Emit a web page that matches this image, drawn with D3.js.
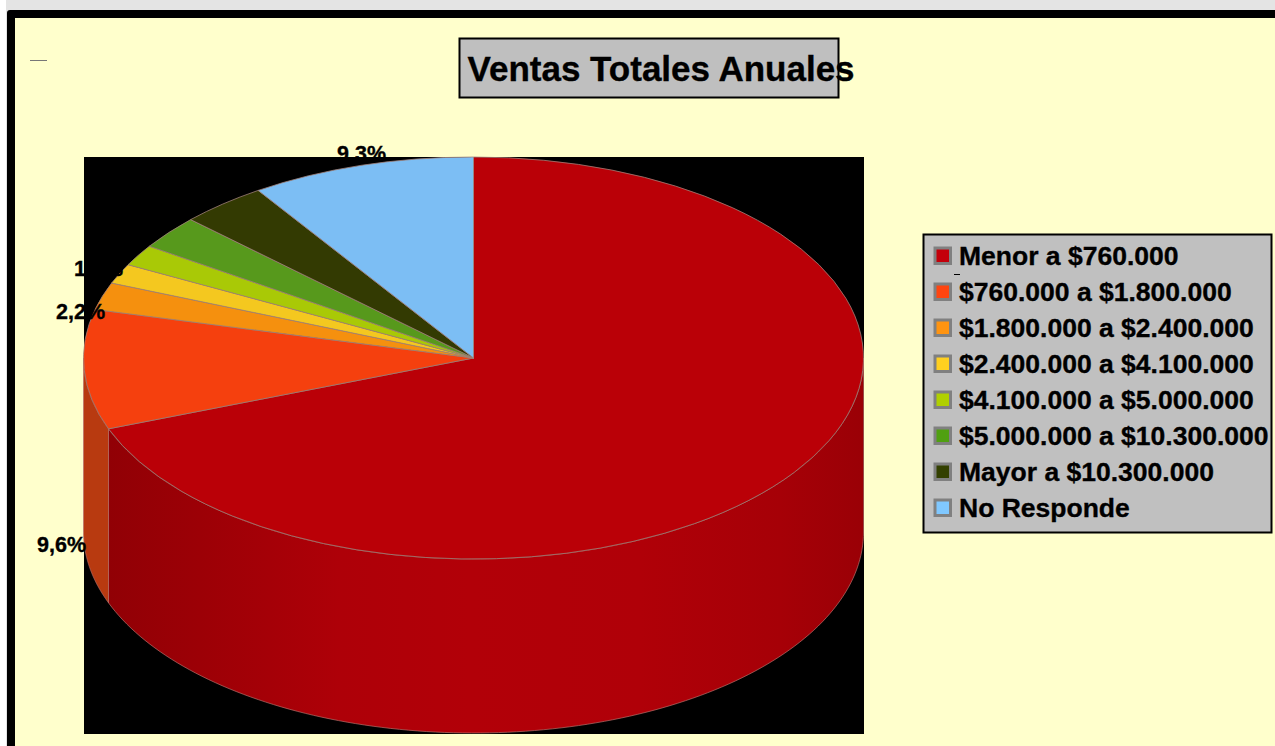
<!DOCTYPE html>
<html><head><meta charset="utf-8">
<script src="https://cdn.jsdelivr.net/npm/d3@7"></script>
<style>html,body{margin:0;padding:0;background:#fff;overflow:hidden}svg{display:block}text{font-family:"Liberation Sans",Arial,sans-serif;font-weight:bold;fill:#000;stroke:#000;stroke-width:.35px}</style>
</head><body><div id="chart"></div>
<script>
const categories = ["Menor a $760.000","$760.000 a $1.800.000","$1.800.000 a $2.400.000","$2.400.000 a $4.100.000","$4.100.000 a $5.000.000","$5.000.000 a $10.300.000","Mayor a $10.300.000","No Responde"];
const values = [69.2,9.6,2.2,1.6,1.7,2.7,3.6,9.3];
const topColors = ["#ba0007","#f5400e","#f5900e","#f4c81f","#a9c906","#57991c","#333a02","#7cbef4"];
const swatchColors = ["#c4000a","#ff4510","#ff9410","#ffd020","#b0d000","#50a010","#334000","#80c8ff"];
const sideStops = [[84,"#8e0005"],[200,"#9c0006"],[340,"#ae0008"],[470,"#b20008"],[640,"#b00008"],[780,"#a60007"],[864,"#9a0006"]];
const labels = [{t:"9,3%",x:337,y:161},{t:"1,6%",x:74,y:276},{t:"2,2%",x:56,y:319},{t:"9,6%",x:37,y:552}];
const title = "Ventas Totales Anuales";

const W=1275,H=746,cx=473.5,cy=358,rx=390,ry=201,depth=174;
const svg=d3.select("#chart").append("svg").attr("width",W).attr("height",H);
svg.append("rect").attr("width",W).attr("height",H).attr("fill","#ffffff");
svg.append("rect").attr("x",6).attr("width",W-6).attr("height",H).attr("fill","#e4e4e4");
svg.append("rect").attr("x",7).attr("y",10).attr("width",W).attr("height",H).attr("rx",3).attr("fill","#000");
svg.append("rect").attr("x",15).attr("y",18).attr("width",W).attr("height",H).attr("fill","#ffffcc");
svg.append("line").attr("x1",30).attr("x2",47).attr("y1",60.5).attr("y2",60.5).attr("stroke","#777");
svg.append("rect").attr("x",84).attr("y",157).attr("width",780).attr("height",577).attr("fill","#000");

const grad=svg.append("defs").append("linearGradient").attr("id","wall").attr("gradientUnits","userSpaceOnUse").attr("x1",84).attr("x2",864).attr("y1",0).attr("y2",0);
grad.selectAll("stop").data(sideStops).join("stop").attr("offset",d=>(d[0]-84)/780).attr("stop-color",d=>d[1]);

const pie=d3.pie().sort(null).value(d=>d).startAngle(0).endAngle(2*Math.PI);
const arcs=pie(values);
const px=a=>cx+rx*Math.sin(a), py=a=>cy-ry*Math.cos(a);
const line=d3.line();
const wallPath=(a0,a1)=>{
  const lo=Math.max(a0,Math.PI/2),hi=Math.min(a1,3*Math.PI/2);
  if(hi<=lo) return null;
  const s=d3.range(0,121).map(i=>lo+(hi-lo)*i/120);
  return line([...s.map(a=>[px(a),py(a)]),...s.slice().reverse().map(a=>[px(a),py(a)+depth])])+"Z";
};
const walls=svg.append("g");
arcs.forEach((d,i)=>{
  const p=wallPath(d.startAngle,d.endAngle);
  if(!p) return;
  walls.append("path").attr("d",p).attr("fill",i===0?"url(#wall)":"#b83a10").attr("stroke","#b8706a").attr("stroke-width",0.7);
});
const arc=d3.arc().innerRadius(0).outerRadius(rx);
svg.append("g").attr("transform",`translate(${cx},${cy}) scale(1,${ry/rx})`)
  .selectAll("path").data(arcs).join("path").attr("d",arc)
  .attr("fill",(d,i)=>topColors[i]).attr("stroke","#a08078").attr("stroke-width",0.8).attr("vector-effect","non-scaling-stroke");

svg.selectAll("text.pct").data(labels).join("text").attr("class","pct").attr("x",d=>d.x).attr("y",d=>d.y).attr("font-size",21.5).text(d=>d.t);

svg.append("rect").attr("x",459.5).attr("y",38.5).attr("width",379).attr("height",59).attr("fill","#bfbfbf").attr("stroke","#000").attr("stroke-width",2);
svg.append("text").attr("x",467.5).attr("y",80.5).attr("font-size",35).text(title);

svg.append("rect").attr("x",923.5).attr("y",234.5).attr("width",348).attr("height",298).attr("fill","#c0c0c0").attr("stroke","#000").attr("stroke-width",2);
const rowY=d3.scaleLinear().domain([0,7]).range([256,508]);
const row=svg.selectAll("g.leg").data(categories).join("g").attr("class","leg").attr("transform",(d,i)=>`translate(0,${rowY(i)})`);
row.append("rect").attr("x",935).attr("y",-8).attr("width",15.5).attr("height",15.5).attr("fill",(d,i)=>swatchColors[i]).attr("stroke","#808080").attr("stroke-width",3);
row.append("text").attr("x",959).attr("y",9).attr("font-size",26.5).text(d=>d);
svg.append("line").attr("x1",954).attr("x2",960).attr("y1",274.5).attr("y2",274.5).attr("stroke","#000");
</script></body></html>
